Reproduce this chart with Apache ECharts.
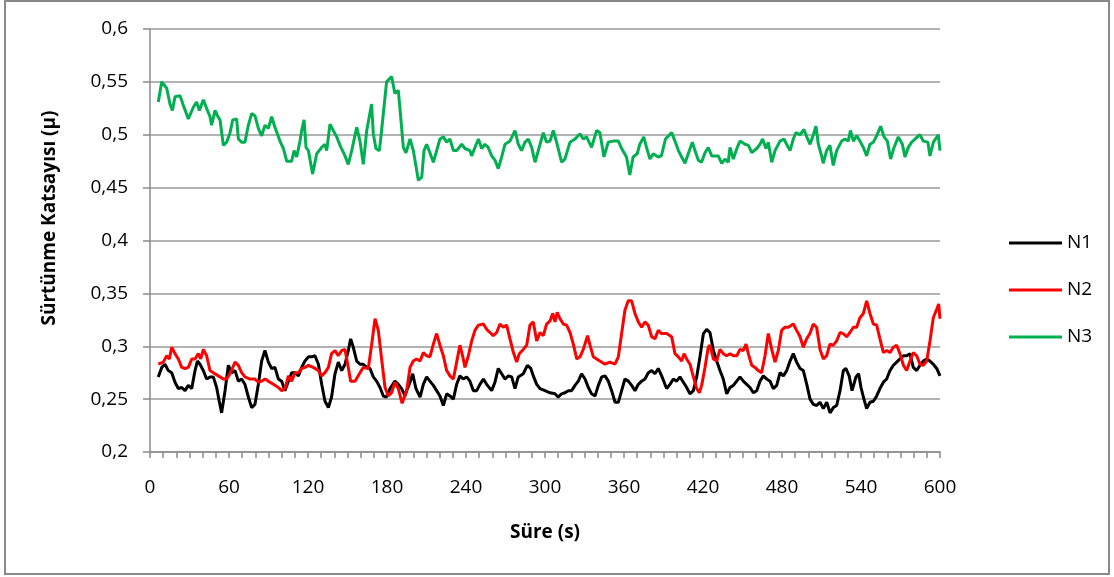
<!DOCTYPE html>
<html>
<head>
<meta charset="utf-8">
<script src="https://cdn.jsdelivr.net/npm/echarts@6/dist/echarts.min.js"></script>
<style>
html,body{margin:0;padding:0;background:#fff;}
#chart{width:1114px;height:577px;}
</style>
</head>
<body>
<div id="chart"></div>
<script>
var seriesNames = ['N1', 'N2', 'N3'];
var xTickLabels = [0, 60, 120, 180, 240, 300, 360, 420, 480, 540, 600];
var yTickLabels = ['0,2', '0,25', '0,3', '0,35', '0,4', '0,45', '0,5', '0,55', '0,6'];

var n1Time = [6.3,8.9,11.4,13.9,16.5,19,21.5,24.1,26.6,29.1,31.7,34.2,36,38,40.5,43,45.6,48.1,50.6,52.6,54.4,57,59.5,62,64.6,67.1,69.6,72.1,74.7,77.2,79.7,82.3,84.8,87.3,89.9,92.4,94.9,97.5,100,102.5,105.1,107.6,110.1,112.7,115.2,117.7,120.3,122.8,125.3,127.9,130.4,132.9,135.5,137.9,140.5,143,145.6,148.1,150.6,152.4,154.4,157,159.5,162,164.6,167.1,169.6,172.1,174.7,177.2,179.7,182.3,186,188.6,191.1,193.7,194.9,197.5,199.5,202,205.1,207.6,210.1,212.6,215.2,217.7,220.2,222.8,225.3,227.8,230.4,232.9,235.4,237.9,240.5,243,245.6,248.1,250.6,253.2,255.7,259.5,262,264.5,267.1,269.6,272.2,274.7,277.2,279.7,283.5,286.6,289.2,291.1,293.7,296.2,300,303.8,307.6,309.9,312.6,315.2,317.7,320.2,322.8,325.3,327.8,330.4,332.9,335.4,338,340.5,343.1,345.6,348.1,350.6,353.2,355.7,358.2,360.7,363.3,365.8,368.3,370.9,373.4,375.9,378.5,381,383.5,386,388.6,391.1,392.4,394.9,397.5,400,402.5,405.1,407.6,410.1,412.7,415.2,417.7,420.3,422.8,425.3,427.9,430.4,432.9,435.4,438,440.5,443.1,445.6,448.1,450.6,453.2,455.7,458.2,460.8,463.3,465.8,468.4,470.9,473.4,476,478.5,481,483.6,486.1,488.6,491.1,493.7,496.2,498.8,501.3,503.8,506.3,508.9,511.4,514,516.5,519,521.5,524.1,526.6,528.5,531,533.2,536.2,538.2,540,541.8,544.3,546.8,549.4,551.9,554.4,557,559.5,562,564.6,567.1,569.6,572.2,574.7,577.2,579.7,582.3,584.8,587.3,589.9,592.4,594.9,597.5,600];
var n1Value = [0.271,0.28,0.283,0.277,0.275,0.266,0.26,0.261,0.258,0.263,0.26,0.277,0.286,0.283,0.277,0.269,0.271,0.271,0.261,0.248,0.237,0.258,0.282,0.275,0.277,0.267,0.269,0.264,0.252,0.242,0.245,0.264,0.286,0.296,0.285,0.279,0.28,0.269,0.267,0.258,0.267,0.275,0.275,0.272,0.28,0.286,0.29,0.29,0.291,0.283,0.264,0.248,0.242,0.252,0.274,0.285,0.277,0.283,0.296,0.307,0.299,0.286,0.283,0.283,0.28,0.279,0.271,0.267,0.261,0.253,0.252,0.26,0.267,0.264,0.26,0.253,0.258,0.266,0.274,0.26,0.252,0.264,0.271,0.267,0.263,0.258,0.253,0.244,0.255,0.253,0.25,0.264,0.272,0.269,0.271,0.267,0.258,0.258,0.264,0.269,0.264,0.258,0.266,0.279,0.274,0.269,0.272,0.271,0.26,0.271,0.274,0.282,0.279,0.272,0.264,0.26,0.258,0.256,0.255,0.252,0.255,0.256,0.258,0.258,0.263,0.267,0.274,0.269,0.261,0.255,0.253,0.263,0.271,0.272,0.267,0.258,0.247,0.247,0.258,0.269,0.267,0.263,0.258,0.264,0.267,0.269,0.275,0.277,0.274,0.279,0.272,0.264,0.26,0.264,0.269,0.267,0.271,0.266,0.261,0.255,0.258,0.271,0.29,0.312,0.316,0.313,0.296,0.286,0.277,0.269,0.255,0.261,0.263,0.267,0.271,0.267,0.264,0.261,0.256,0.258,0.267,0.272,0.269,0.267,0.26,0.263,0.275,0.272,0.277,0.286,0.293,0.285,0.279,0.277,0.264,0.25,0.245,0.244,0.247,0.241,0.247,0.237,0.242,0.244,0.258,0.277,0.279,0.272,0.258,0.271,0.274,0.261,0.252,0.241,0.247,0.248,0.253,0.26,0.266,0.269,0.277,0.282,0.285,0.288,0.291,0.291,0.293,0.28,0.277,0.282,0.286,0.288,0.286,0.283,0.279,0.272];

var n2Time = [6.3,10.1,12.7,14.7,16.5,19,21.5,24.1,26.6,29.1,31.7,34.2,36.7,38.5,40.5,43,45.6,48.1,51.9,55.7,58.2,60.8,64.6,67.1,69.6,72.1,75.9,79.7,82.3,84.8,87.3,89.9,93.7,97.5,100,102.5,105.1,107.6,110.1,112.7,115.2,117.7,120.3,124,127.9,130.4,132.9,135.5,137.9,140.5,143,145.6,148.1,150.6,152.4,155.7,159.5,162,165.8,168.4,170.9,173.4,175.9,178.5,181,183.5,186,188.6,191.5,194.9,197.5,200,202.5,205.1,207.6,210.1,212.6,215.2,217.7,220.2,222.8,225.3,227.8,230.4,232.9,235.4,237.4,239.2,241.8,244.3,246.8,249.4,253.2,255.7,258.2,260.7,263.3,265.8,268.3,270.9,273.4,276,278.5,280.5,283.5,286.1,288.6,291.1,293.7,296.2,298.7,301.2,303.8,305.9,307.6,309.3,311.4,313.9,316.4,319,321.5,324.1,326.6,329.1,332.3,334.2,336.7,339.2,341.7,345.5,349.3,353.1,355.7,358.2,360.7,363.2,365.8,368.3,370.9,373.4,375.9,378.4,381,383.5,386,388.6,392.4,396.2,398.7,401.3,403.8,405.6,407.6,410.1,412.7,415.2,417.2,419,421.5,424,425.3,427.9,430.4,432.9,435.4,438,440.5,443.1,445.7,448.1,450.6,452.7,454.4,457,459.5,462,464.5,467.1,469.6,472.2,474.7,477.2,479.7,482.3,484.8,488.6,491.1,493.7,496.2,498.7,501.2,503.8,506.3,508.9,511.4,513.9,516.4,519,521.5,524.1,526.6,529.1,531.6,534.2,536.7,539.2,541.8,544.3,546.8,549.4,551.9,554.4,557,559.5,562,564.6,567.1,569.6,572.2,574.7,577.2,579.7,582.3,584.8,587.3,589.9,592.4,594.9,597.5,599,600];
var n2Value = [0.283,0.285,0.291,0.288,0.299,0.293,0.288,0.28,0.279,0.28,0.288,0.288,0.293,0.288,0.297,0.291,0.277,0.275,0.272,0.269,0.269,0.274,0.285,0.282,0.275,0.271,0.269,0.269,0.266,0.267,0.269,0.267,0.264,0.261,0.258,0.26,0.272,0.267,0.275,0.275,0.279,0.28,0.282,0.28,0.277,0.272,0.275,0.28,0.293,0.296,0.291,0.296,0.297,0.28,0.267,0.267,0.275,0.28,0.279,0.302,0.326,0.315,0.288,0.261,0.253,0.256,0.266,0.26,0.246,0.258,0.28,0.286,0.288,0.286,0.294,0.291,0.29,0.302,0.312,0.301,0.291,0.277,0.272,0.269,0.285,0.301,0.291,0.28,0.291,0.305,0.315,0.32,0.321,0.316,0.313,0.31,0.313,0.321,0.318,0.32,0.307,0.294,0.285,0.293,0.297,0.301,0.32,0.323,0.305,0.313,0.31,0.321,0.324,0.331,0.323,0.332,0.326,0.321,0.32,0.313,0.302,0.288,0.29,0.297,0.31,0.301,0.29,0.288,0.286,0.283,0.285,0.283,0.29,0.312,0.334,0.343,0.343,0.331,0.323,0.318,0.323,0.32,0.309,0.307,0.315,0.312,0.312,0.309,0.293,0.29,0.286,0.293,0.288,0.283,0.271,0.26,0.256,0.263,0.28,0.299,0.301,0.288,0.286,0.297,0.293,0.291,0.293,0.291,0.291,0.297,0.296,0.302,0.293,0.282,0.28,0.277,0.275,0.291,0.312,0.297,0.285,0.296,0.315,0.318,0.318,0.321,0.315,0.309,0.299,0.307,0.312,0.321,0.318,0.297,0.288,0.291,0.302,0.301,0.305,0.313,0.312,0.309,0.313,0.318,0.318,0.327,0.331,0.343,0.331,0.321,0.32,0.307,0.294,0.296,0.294,0.299,0.301,0.293,0.282,0.277,0.286,0.294,0.291,0.283,0.282,0.286,0.305,0.327,0.335,0.34,0.326];

var n3Time = [6.3,8.9,12.7,15.2,17,19,22.8,25.3,29.1,32.9,35.4,37.5,40.5,43,45.6,46.8,49.4,51.2,53.2,55.7,58.2,60.8,62.8,65.8,67.1,69.6,72.1,74.7,77.2,79.7,82.3,84.8,87.3,89.9,92.4,94.9,98.7,101.3,103.8,107.6,109.4,111.4,113.9,115.2,117,118.5,120.3,123.5,126.6,130.4,132.9,134.2,136.7,139.2,141.8,144.3,148.1,150.6,153.2,157,159.5,162,164.6,168.3,169.6,171.6,174.2,175.9,177.7,179.7,183.5,186,188.6,191.1,192.4,194.4,197.5,200,203.8,206.4,208.1,210.1,212.6,215.2,217.7,220.2,222.8,225.3,227.8,230.4,232.9,236.7,239.2,243,244.3,246.8,249.4,251.9,254.4,256.9,259.5,262,264.5,267.1,269.6,273.4,277.2,279.7,282.2,284.8,287.3,289.9,292.4,294.9,298.7,301.2,303.8,306.3,308.8,312.6,315.1,319,322.8,326.6,329.1,331.6,335.4,339.2,341.7,344.8,348,351.9,355.7,358.2,361.9,364.4,366.9,370,372,375,377.1,379.7,382.2,385.9,388.4,391.5,396.2,398.7,401.3,403.8,406.3,408.8,411.9,413.9,416.4,418.9,421.5,424,426.6,429.1,431.6,434.2,436.7,439.2,440.5,443,445.7,448.1,452,454.5,457,460.8,463.3,465.3,467.8,469.6,472.2,474.7,478.5,481.5,483.5,486.1,488.6,490.6,493.7,496.7,498.8,501.3,503.8,505.8,507.6,510.1,511.3,513.9,516.4,518.9,521.5,525.3,527.8,530.3,532,534.2,536.7,539.2,541.8,544.3,546.8,549.4,551.9,554.9,557.5,560,562.5,565.1,568.3,571.4,573.4,575.9,578.5,581.1,584.8,587.3,590.8,592.4,595,598.7,600];
var n3Value = [0.531,0.55,0.544,0.529,0.523,0.536,0.537,0.528,0.515,0.526,0.531,0.523,0.533,0.525,0.517,0.509,0.523,0.518,0.514,0.49,0.493,0.502,0.514,0.515,0.496,0.493,0.493,0.509,0.52,0.518,0.506,0.499,0.509,0.506,0.517,0.507,0.494,0.487,0.475,0.475,0.485,0.479,0.494,0.504,0.514,0.488,0.485,0.463,0.482,0.488,0.491,0.485,0.51,0.504,0.498,0.49,0.48,0.472,0.485,0.507,0.494,0.472,0.504,0.529,0.501,0.487,0.485,0.504,0.526,0.55,0.555,0.539,0.542,0.507,0.488,0.483,0.496,0.485,0.457,0.46,0.485,0.491,0.483,0.474,0.485,0.496,0.498,0.493,0.496,0.485,0.485,0.491,0.487,0.485,0.48,0.488,0.496,0.487,0.491,0.488,0.48,0.476,0.468,0.479,0.491,0.494,0.504,0.491,0.485,0.493,0.496,0.488,0.474,0.485,0.502,0.493,0.494,0.504,0.493,0.474,0.477,0.493,0.496,0.501,0.496,0.498,0.488,0.504,0.502,0.479,0.493,0.494,0.494,0.487,0.479,0.462,0.479,0.482,0.491,0.498,0.488,0.477,0.482,0.479,0.48,0.496,0.502,0.494,0.485,0.479,0.473,0.482,0.493,0.485,0.476,0.474,0.483,0.488,0.48,0.48,0.48,0.473,0.477,0.474,0.488,0.477,0.487,0.494,0.491,0.49,0.483,0.487,0.491,0.496,0.487,0.493,0.474,0.485,0.494,0.496,0.491,0.485,0.496,0.502,0.5,0.505,0.498,0.491,0.5,0.508,0.491,0.48,0.473,0.485,0.49,0.471,0.485,0.494,0.496,0.494,0.504,0.494,0.499,0.494,0.488,0.48,0.491,0.493,0.499,0.508,0.498,0.494,0.477,0.488,0.498,0.491,0.479,0.488,0.493,0.496,0.5,0.494,0.493,0.48,0.493,0.5,0.485];

function zip(t, v) { return t.map(function (x, i) { return [x, v[i]]; }); }
var seriesData = [zip(n1Time, n1Value), zip(n2Time, n2Value), zip(n3Time, n3Value)];
var seriesColors = ['#000000', '#FF0000', '#00B050'];

var FONT = '"Open Sans", "DejaVu Sans", sans-serif';
var chart = echarts.init(document.getElementById('chart'), null, {renderer: 'canvas'});
chart.setOption({
  backgroundColor: '#ffffff',
  animation: false,
  graphic: [
    {type: 'rect', shape: {x: 5, y: 1, width: 1104, height: 573}, style: {fill: 'none', stroke: '#898989', lineWidth: 2}, z: -1},
    {type: 'text', x: 50, y: 218, rotation: Math.PI / 2,
     style: {text: 'Sürtünme Katsayısı (µ)', font: 'bold 19px ' + FONT, fill: '#000', align: 'center', verticalAlign: 'middle'}}
  ],
  grid: {left: 150, right: 174, top: 29, bottom: 125, containLabel: false},
  legend: {
    orient: 'vertical', left: 1004, top: 228,
    itemWidth: 53, itemHeight: 3, itemGap: 27, icon: 'rect',
    textStyle: {fontFamily: FONT, fontSize: 19, color: '#000', lineHeight: 20},
    data: seriesNames
  },
  xAxis: {
    type: 'value', min: 0, max: 600, interval: 10,
    name: 'Süre (s)', nameLocation: 'middle', nameGap: 71,
    nameTextStyle: {fontFamily: FONT, fontSize: 19, fontWeight: 'bold', color: '#000'},
    axisLine: {show: true, lineStyle: {color: '#8c8c8c', width: 1.5}},
    axisTick: {show: true, length: 6, lineStyle: {color: '#8c8c8c', width: 1.5}},
    axisLabel: {margin: 26, fontFamily: FONT, fontSize: 19, color: '#000',
      formatter: function (v) { return xTickLabels.indexOf(v) >= 0 ? String(v) : ''; }},
    splitLine: {show: false}
  },
  yAxis: {
    type: 'value', min: 0.2, max: 0.6, interval: 0.05,
    axisLine: {show: true, lineStyle: {color: '#8c8c8c', width: 1.5}},
    axisTick: {show: true, length: 7, lineStyle: {color: '#8c8c8c', width: 1.5}},
    axisLabel: {margin: 22, fontFamily: FONT, fontSize: 19, color: '#000',
      formatter: function (v) { var i = Math.round((v - 0.2) / 0.05); return yTickLabels[i] || ''; }},
    splitLine: {show: true, lineStyle: {color: '#9a9a9a', width: 1.5}}
  },
  series: seriesNames.map(function (n, i) {
    return {name: n, type: 'line', data: seriesData[i], showSymbol: false, symbol: 'none',
      lineStyle: {color: seriesColors[i], width: 3}, itemStyle: {color: seriesColors[i]}};
  })
});
</script>
</body>
</html>
